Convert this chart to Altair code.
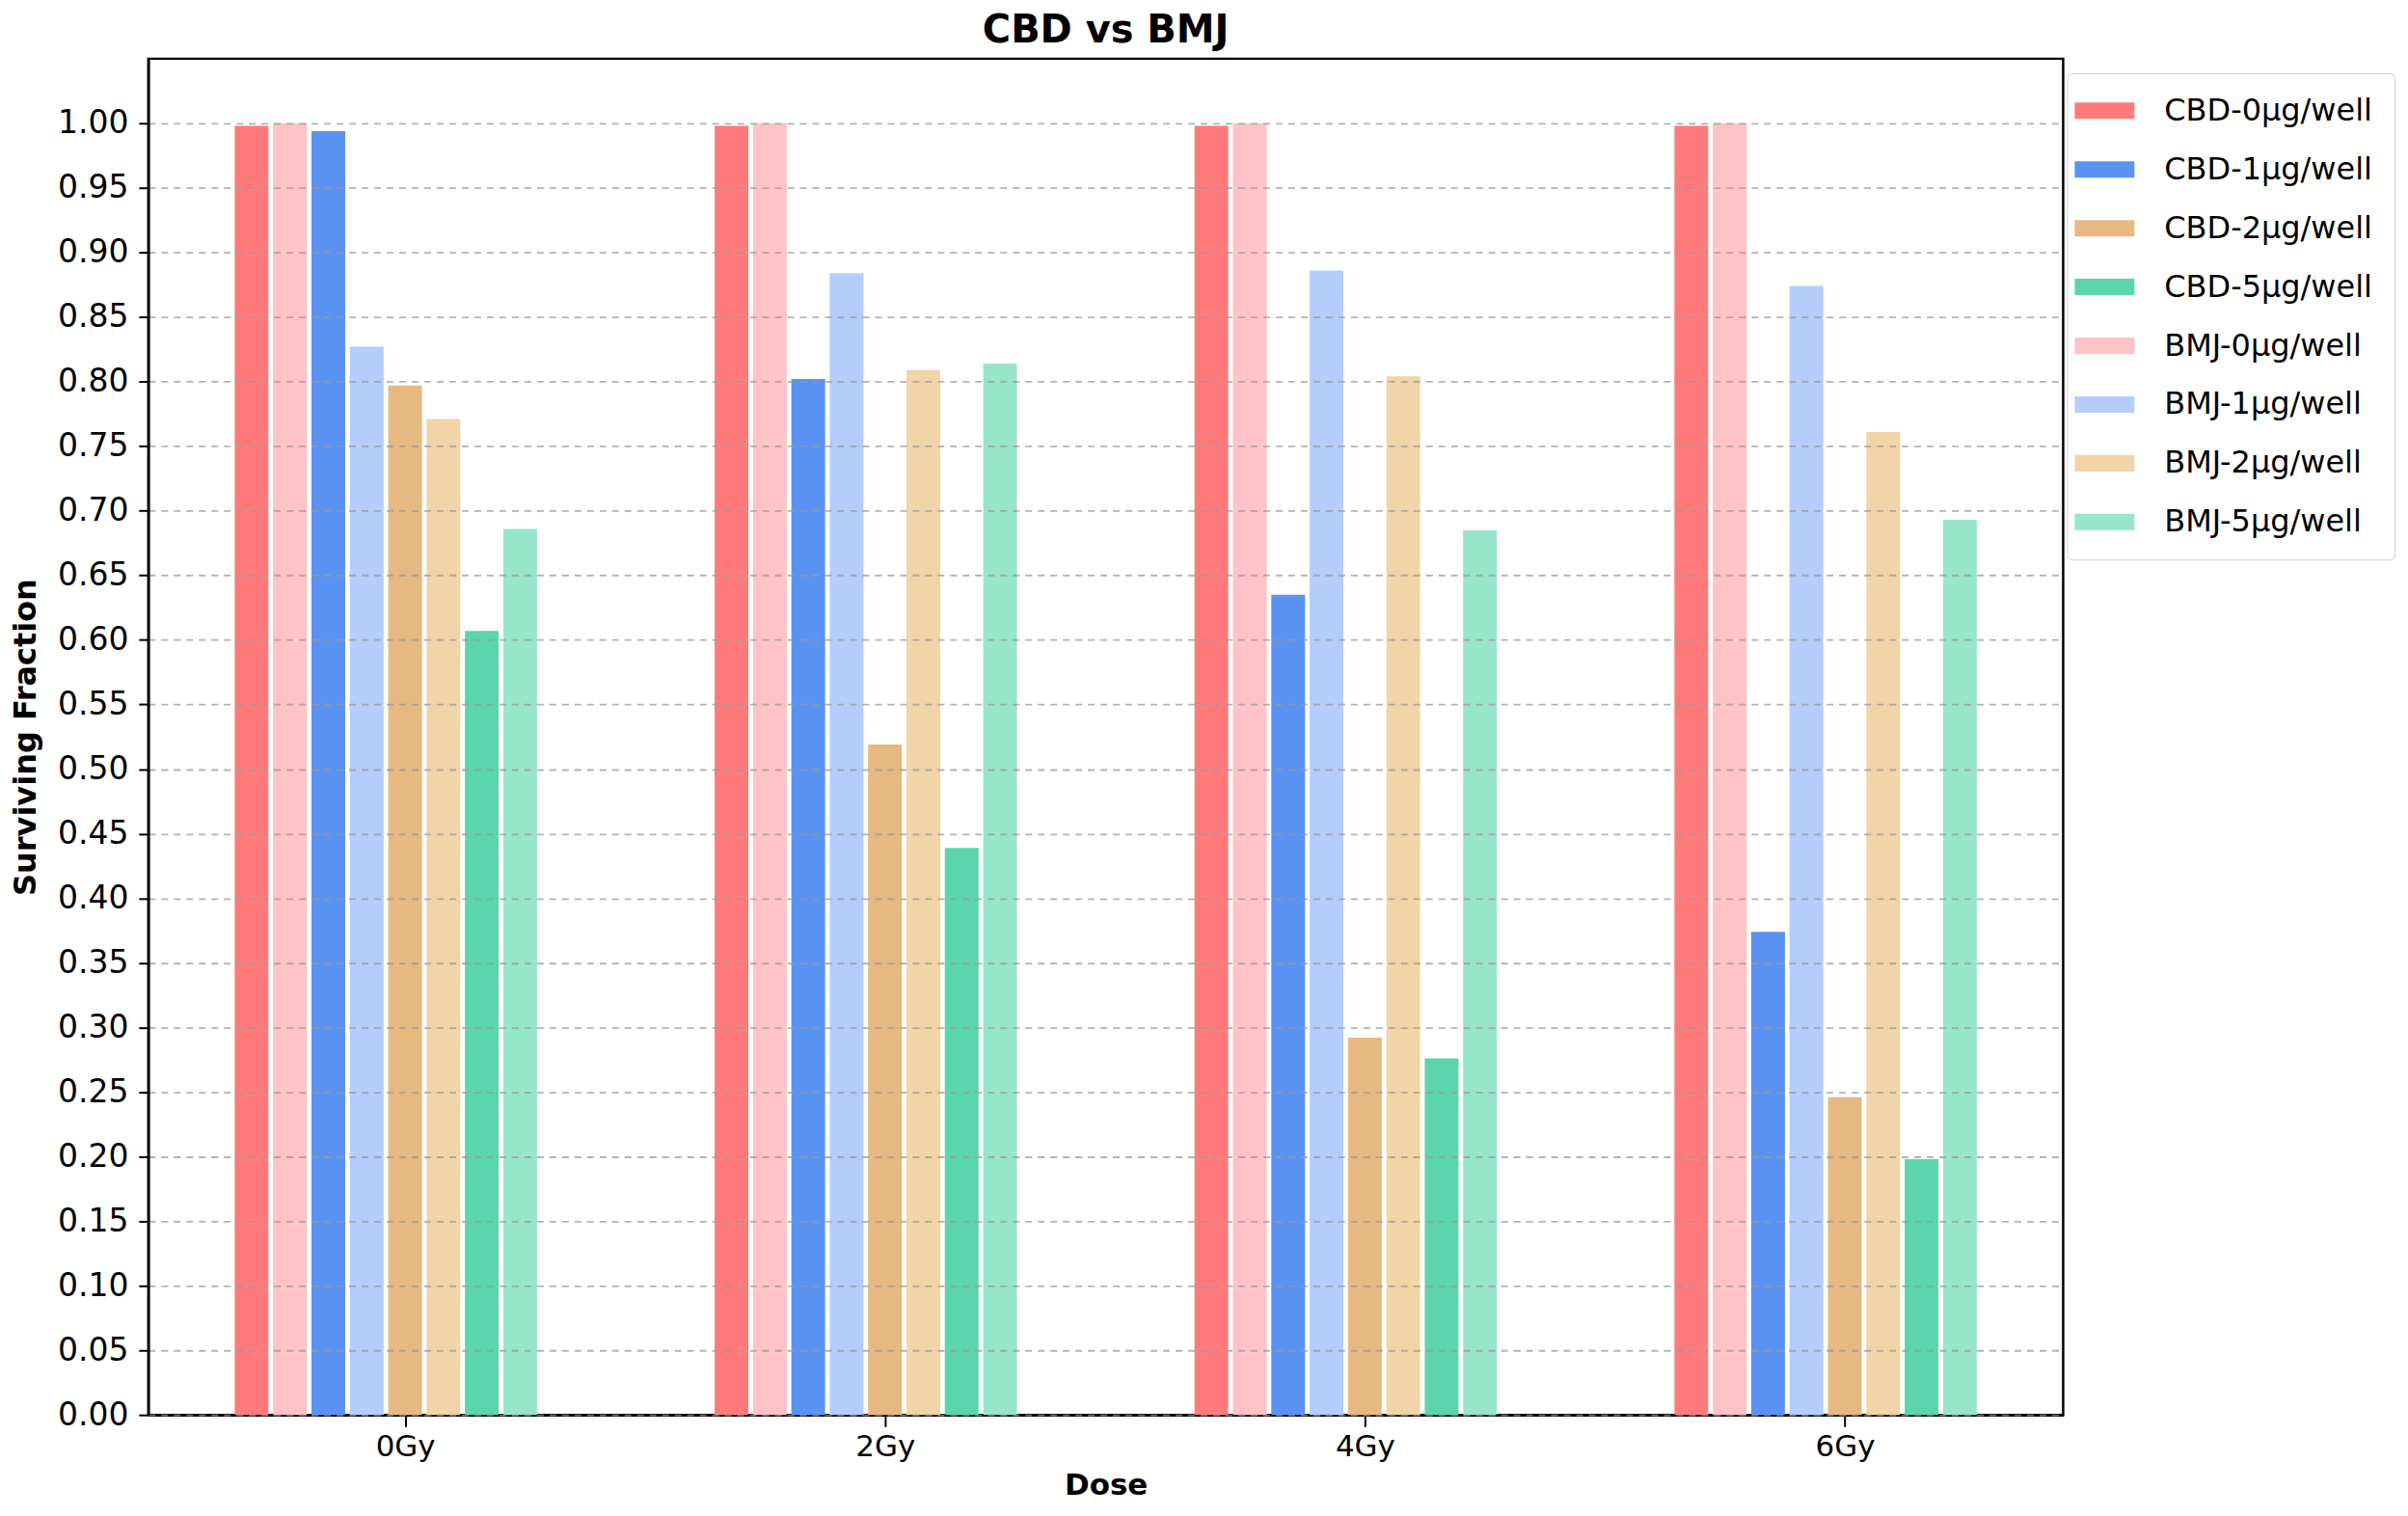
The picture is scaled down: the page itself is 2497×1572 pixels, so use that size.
import altair as alt
import pandas as pd

# ---- data ----
doses = ["0Gy", "2Gy", "4Gy", "6Gy"]
legend_labels = ["CBD-0μg/well", "CBD-1μg/well", "CBD-2μg/well", "CBD-5μg/well",
                 "BMJ-0μg/well", "BMJ-1μg/well", "BMJ-2μg/well", "BMJ-5μg/well"]
bar_order = ["CBD-0μg/well", "BMJ-0μg/well", "CBD-1μg/well", "BMJ-1μg/well",
             "CBD-2μg/well", "BMJ-2μg/well", "CBD-5μg/well", "BMJ-5μg/well"]
colors = ["#ff7b7b", "#5b93f2", "#e6b982", "#5bd5ad",
          "#ffc2c6", "#b4cdfa", "#f2d4a9", "#98e6c9"]

cbd_0 = [0.998, 0.998, 0.998, 0.998]
cbd_1 = [0.994, 0.802, 0.635, 0.374]
cbd_2 = [0.797, 0.519, 0.292, 0.246]
cbd_5 = [0.607, 0.439, 0.276, 0.198]
bmj_0 = [1.000, 1.000, 1.000, 1.000]
bmj_1 = [0.827, 0.884, 0.886, 0.874]
bmj_2 = [0.771, 0.809, 0.804, 0.761]
bmj_5 = [0.686, 0.814, 0.685, 0.693]

y_ticks = [round(i * 0.05, 2) for i in range(21)]

series_values = [cbd_0, cbd_1, cbd_2, cbd_5, bmj_0, bmj_1, bmj_2, bmj_5]
rows = []
for name, vals in zip(legend_labels, series_values):
    for d, v in zip(doses, vals):
        rows.append({"Dose": d, "Series": name, "Value": v})
df = pd.DataFrame(rows)

FONT = "DejaVu Sans"

bars = alt.Chart(df).mark_bar(opacity=1).encode(
    x=alt.X("Dose:N", sort=doses,
            scale=alt.Scale(paddingInner=0.37, paddingOuter=0.18),
            axis=alt.Axis(title="Dose", labelAngle=0, tickOffset=20,
                          labelFontSize=31, titleFontSize=31, titleFontWeight="bold",
                          tickSize=12, tickWidth=2, tickColor="black",
                          labelPadding=6, titlePadding=10,
                          domainColor="black", domainWidth=2.5)),
    xOffset=alt.XOffset("Series:N", sort=bar_order,
                        scale=alt.Scale(paddingInner=0.12, paddingOuter=0)),
    y=alt.Y("Value:Q",
            scale=alt.Scale(domain=[0, 1.05], nice=False),
            axis=alt.Axis(title="Surviving Fraction", values=y_ticks, format=".2f",
                          labelFontSize=33, titleFontSize=32, titleFontWeight="bold",
                          tickSize=10, tickWidth=2, tickColor="black",
                          labelPadding=11, titlePadding=16,
                          grid=True, gridDash=[7, 6], gridColor="#9a9a9a",
                          gridOpacity=0.75, gridWidth=1.8, zindex=1,
                          domainColor="black", domainWidth=2.5)),
    color=alt.Color("Series:N", sort=legend_labels,
                    scale=alt.Scale(domain=legend_labels, range=colors),
                    legend=alt.Legend(
                        title=None, orient="none", legendX=1992, legendY=15,
                        symbolType="M-2,-0.55H2V0.55H-2Z", symbolSize=961,
                        symbolStrokeWidth=0, symbolOpacity=1,
                        labelFontSize=32, labelOffset=46, labelLimit=500,
                        rowPadding=29, padding=23,
                        strokeColor="#d0d0d0", fillColor="white",
                        cornerRadius=5)),
)

chart = bars.properties(
    width=1988, height=1408,
    title=alt.TitleParams("CBD vs BMJ", fontSize=40, fontWeight="bold", font=FONT,
                          anchor="middle", offset=9, color="black"),
    padding={"left": 2, "top": 3, "right": 5, "bottom": 5},
).configure(font=FONT).configure_axis(
    labelFont=FONT, titleFont=FONT, labelColor="black", titleColor="black"
).configure_legend(labelFont=FONT, labelColor="black").configure_view(
    stroke="black", strokeWidth=2.5
)

chart.save("out.html", embed_options={"renderer": "svg", "actions": False})
